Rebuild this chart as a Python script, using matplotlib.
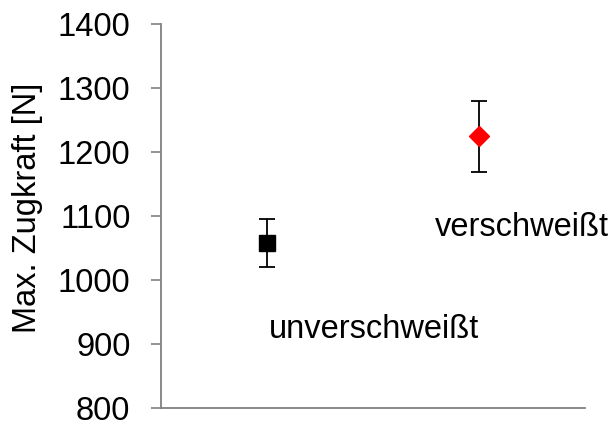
import numpy as np
import matplotlib.pyplot as plt

plt.rcParams['font.family'] = ['Liberation Sans', 'DejaVu Sans']

# Daten
gruppen = ['unverschweißt', 'verschweißt']
x_pos = [1, 2]
mittelwert = [1058, 1225]
fehler_unten = [38, 56]
fehler_oben = [37, 55]
marker = ['s', 'D']
farben = ['black', 'red']
label_pos = [(1.01, 923), (1.79, 1082)]

fig = plt.figure(figsize=(6.15, 4.23), dpi=100)
ax = fig.add_axes([0.2618, 0.036, 0.6892, 0.908])

for i in range(len(gruppen)):
    ax.errorbar(x_pos[i], mittelwert[i],
                yerr=[[fehler_unten[i]], [fehler_oben[i]]],
                fmt=marker[i], color=farben[i], ecolor='black',
                elinewidth=1.3, capsize=6, capthick=1.3,
                markersize=11 if marker[i] == 's' else 10.5)
    ax.text(label_pos[i][0], label_pos[i][1], gruppen[i],
            fontsize=23.5, va='center', ha='left')

ax.set_xlim(0.5, 2.5)
ax.set_ylim(800, 1400)
ax.set_yticks(np.arange(800, 1401, 100))
ax.set_xticks([])
ax.tick_params(axis='y', labelsize=23.5, length=7, width=1.2, color='#808080', pad=15)

for s in ['top', 'right']:
    ax.spines[s].set_visible(False)
for s in ['left', 'bottom']:
    ax.spines[s].set_color('#808080')
    ax.spines[s].set_linewidth(1.3)

ax.set_ylabel('Max. Zugkraft [N]', fontsize=23.5)
ax.yaxis.set_label_coords(-0.314, 0.52)
ax.yaxis.label.set_va('center')

fig.savefig('out.png', dpi=100)
